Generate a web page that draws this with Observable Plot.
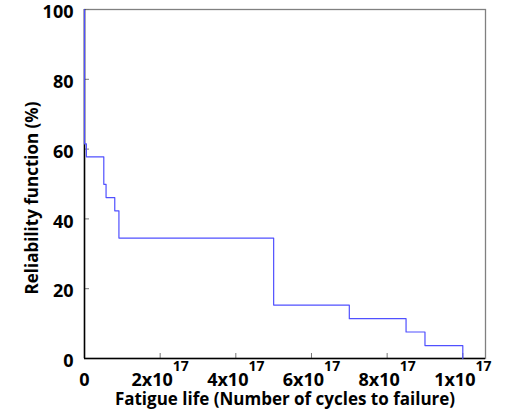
<!DOCTYPE html>
<html><head><meta charset="utf-8">
<script src="https://cdn.jsdelivr.net/npm/d3@7"></script>
<script src="https://cdn.jsdelivr.net/npm/@observablehq/plot@0.6"></script>
<style>body{margin:0;background:#fff;}</style>
</head><body><div id="chart"></div>
<script>
const cycles = [0, 0, 5e15, 5.1e16, 5.7e16, 8.0e16, 9.1e16, 5.0e17, 7.0e17, 8.5e17, 9.0e17, 1.0e18];
const reliability = [100, 61.5, 57.8, 49.9, 46.1, 42.3, 34.5, 15.3, 11.4, 7.6, 3.7, 0];
const xTickValues = [0, 2e17, 4e17, 6e17, 8e17, 1e18];
const xTickBases = ["0", "2x10", "4x10", "6x10", "8x10", "1x10"];
const xTickExponents = ["", "17", "17", "17", "17", "17"];
const yTickValues = [0, 20, 40, 60, 80, 100];
const xTitle = "Fatigue life (Number of cycles to failure)";
const yTitle = "Reliability function (%)";

const data = cycles.map((c, i) => ({c, r: reliability[i]}));
const plot = Plot.plot({
  width: 506, height: 420,
  marginLeft: 84, marginRight: 21, marginTop: 9, marginBottom: 62,
  style: {fontFamily: "'Open Sans', sans-serif", fontSize: "18px", fontWeight: "bold", color: "#000", background: "#fff", overflow: "visible"},
  x: {domain: [0, 1.06e18]},
  y: {domain: [0, 100]},
  marks: [
    Plot.frame({stroke: "#808080", strokeWidth: 1.3}),
    Plot.axisX({ticks: xTickValues, tickSize: -5, tickPadding: 20, stroke: "#777", fill: "#000",
      tickFormat: d => xTickBases[xTickValues.indexOf(d)], label: null}),
    Plot.axisY({ticks: yTickValues, tickSize: -5, stroke: "#777", tickFormat: () => "", label: null}),
    Plot.axisY({ticks: yTickValues, tickSize: 0, tickPadding: 11, dy: 3, fill: "#000", label: null}),
    Plot.ruleX([0], {stroke: "#000", strokeWidth: 1.5}),
    Plot.ruleY([0], {stroke: "#000", strokeWidth: 1.5}),
    Plot.line(data, {x: "c", y: "r", curve: "step-after", stroke: "#5050ff", strokeWidth: 1.2}),
    Plot.text([xTitle], {frameAnchor: "bottom", lineAnchor: "middle", textAnchor: "middle", dy: 41, fontSize: 17, fontWeight: "bold", fill: "#000"}),
    Plot.text([yTitle], {frameAnchor: "left", lineAnchor: "middle", textAnchor: "middle", rotate: -90, dx: -52, dy: 14, fontSize: 17, fontWeight: "bold", fill: "#000"})
  ]
});
document.getElementById("chart").appendChild(plot);
d3.select(plot).selectAll('g[aria-label="x-axis tick label"] text').each(function(d, i) {
  const exp = xTickExponents[i];
  if (exp) {
    d3.select(this).append("tspan").attr("dy", -15).attr("font-size", 14).text(exp);
  }
});
</script>
</body></html>
